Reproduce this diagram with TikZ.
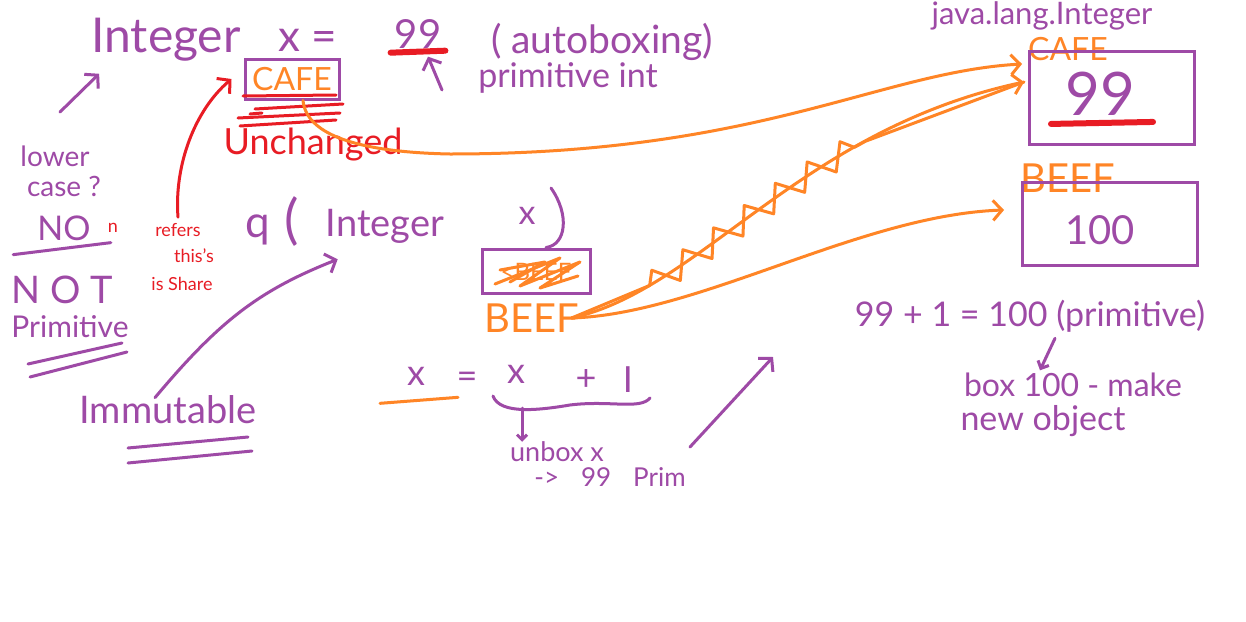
\documentclass[tikz,border=0pt]{standalone}
\usepackage{fontspec}
\setmainfont{Lato}
\usetikzlibrary{arrows.meta,decorations.pathmorphing}
\definecolor{pp}{RGB}{158,74,166}
\definecolor{og}{RGB}{255,133,38}
\definecolor{rd}{RGB}{232,28,36}
\newcommand\hfs[1]{\fontsize{#1}{#1}\selectfont}
\tikzset{
  ptext/.style={text=pp, inner sep=0pt},
  otext/.style={text=og, inner sep=0pt},
  rtext/.style={text=rd, inner sep=0pt},
  pline/.style={draw=pp, line width=3pt, line cap=round, line join=round},
  oline/.style={draw=og, line width=3pt, line cap=round, line join=round},
  rline/.style={draw=rd, line width=3pt, line cap=round, line join=round},
  barb/.style={-{Straight Barb[length=9pt,width=20pt]}},
  pbox/.style={draw=pp, line width=3pt, inner sep=0pt},
}
\begin{document}
\begin{tikzpicture}[x=1pt,y=-1pt]
\useasboundingbox (0,0) rectangle (1246,621);
\fill[white] (0,0) rectangle (1246,621);

% ---------- top line ----------
\node[ptext,font=\hfs{48}] (integer) at (166,40) {Integer};
\node[ptext,font=\hfs{44}] (xeq) at (308,40) {x =};
\node[ptext,font=\hfs{40}] (v99) at (418,34) {99};
\node[ptext,font=\hfs{39}] (autobox) at (602,42) {( autoboxing)};
\node[ptext,font=\hfs{34}] (primint) at (568,78) {primitive int};
\draw[rline,line width=6pt] ([shift={(-4,4)}]v99.south west) -- ([shift={(4,2)}]v99.south east);
\coordinate (piTail) at (442,90);
\draw[pline,barb] (piTail) -- ([shift={(10,8)}]v99.south);

% ---------- CAFE reference box ----------
\node[pbox,text=og,font=\hfs{32},minimum width=94pt,minimum height=40pt] (cafe) at (292,79) {CAFE};
\draw[rline] (243,96) -- (336,95);
\draw[rline] (255,109) -- (343,104);
\draw[rline] (238,118) -- (340,113);
\draw[rline] (240,126) -- (336,120);
\draw[rline] (250,114) -- (262,113);
\node[rtext,font=\hfs{36}] (unch) at (313,145) {Unchanged};

% red "refers" arrow
\node[rtext,font=\hfs{18}] (refers) at (178,230) {refers};
\node[rtext,font=\hfs{18}] (thisis) at (194,256) {this's};
\node[rtext,font=\hfs{18}] (share) at (182,284) {is Share};
\node[rtext,font=\hfs{18}] (nmark) at (113,228) {n};
\draw[rline,barb] ([yshift=6pt]refers.north) .. controls (174,165) and (195,110) .. ([xshift=-12pt]cafe.west);

% ---------- left column ----------
\node[ptext,font=\hfs{28}] (lower) at (55,156) {lower};
\node[ptext,font=\hfs{28}] (case) at (64,186) {case ?};
\coordinate (lowTail) at (60,112);
\draw[pline,barb] (lowTail) -- ([shift={(8,12)}]integer.south west);
\node[ptext,font=\hfs{34}] (no) at (64,228) {NO};
\draw[pline] ([shift={(-24,14)}]no.south west) -- ([shift={(20,2)}]no.south east);
\node[ptext,font=\hfs{38}] (not) at (62,290) {N O T};
\node[ptext,font=\hfs{30}] (primitive) at (70,327) {Primitive};
\draw[pline] (28,364) -- (122,343);
\draw[pline] (30,377) -- (127,352);

% ---------- q(Integer x) ----------
\node[ptext,font=\hfs{44}] (q) at (258,230) {q};
\node[ptext,font=\hfs{54}] (lpar) at (292,222) {(};
\node[ptext,font=\hfs{38}] (integer2) at (385,226) {Integer};
\node[ptext,font=\hfs{34}] (x2) at (527,216) {x};
\node[pbox,minimum width=108pt,minimum height=44pt] (beefbox) at (536,271) {};
\coordinate (rparTop) at (551,188);
\draw[pline] (rparTop) .. controls (570,215) and (566,245) .. ([xshift=10pt]beefbox.north);
\node[otext,font=\hfs{24}] (oldbeef) at (536,272) {<BEEF};
\draw[oline] (495,284) -- (560,258) -- (520,286) -- (580,262) -- (540,288) -- (578,276);
\draw[oline] (500,270) -- (545,262) -- (510,282);
\node[otext,font=\hfs{40}] (beef) at (532,318) {BEEF};

% immutable
\node[ptext,font=\hfs{38}] (immutable) at (168,410) {Immutable};
\draw[pline] (128,448) -- (248,437);
\draw[pline] (128,463) -- (252,451);
\draw[pline,barb] ([shift={(-13,2)}]immutable.north) .. controls (220,320) and (260,290) .. ([shift={(12,16)}]integer2.south west);

% x = x + I
\node[ptext,font=\hfs{36}] (xa) at (416,376) {x};
\node[ptext,font=\hfs{36}] (eq2) at (467,380) {=};
\node[ptext,font=\hfs{36}] (xb) at (516,374) {x};
\node[ptext,font=\hfs{36}] (plus) at (586,380) {+};
\node[ptext,font=\hfs{36}] (oneI) at (628,380) {I};
\draw[oline] ([shift={(-36,18)}]xa.south) -- ([shift={(42,12)}]xa.south);
\coordinate (braceL) at (493,396);
\coordinate (braceR) at (650,398);
\draw[pline] (braceL) .. controls (500,415) and (540,410) .. (570,405) .. controls (610,400) and (640,410) .. (braceR);
\node[ptext,font=\hfs{27}] (unbox) at (557,452) {unbox x};
\node[ptext,font=\hfs{26}] (prim99) at (610,477) {->\hspace{22pt}99\hspace{22pt}Prim};
\draw[pline,-{Straight Barb[length=5pt,width=10pt]}] (522,408) -- ([xshift=-35pt]unbox.north);
\coordinate (upTail) at (690,447);
\coordinate (upTip) at (773,357);
\draw[pline,barb] (upTail) -- (upTip);

% ---------- right: heap objects ----------
\node[ptext,font=\hfs{31}] (jli) at (1042,16) {java.lang.Integer};
\node[otext,font=\hfs{32}] (cafe2) at (1068,49) {CAFE};
\node[pbox,minimum width=165pt,minimum height=93pt] (obj1) at (1112,98) {};
\node[ptext,font=\hfs{60}] (v99b) at (1100,94) {99};
\draw[rline,line width=6pt] ([shift={(-14,8)}]v99b.south west) -- ([shift={(18,6)}]v99b.south east);
\node[otext,font=\hfs{40}] (beef2) at (1068,178) {BEEF};
\node[pbox,minimum width=175pt,minimum height=83pt] (obj2) at (1110,224) {};
\node[ptext,font=\hfs{40}] (v100) at (1100,230) {100};

% orange reference arrows
\coordinate (tipA) at (1022,64);
\coordinate (tipB) at (1024,82);
\coordinate (tipC) at (1004,210);
\draw[oline,barb] ([xshift=11pt]cafe.south) .. controls (306,132) and (350,152) .. (450,154) .. controls (760,154) and (880,72) .. (tipA);
\draw[oline,barb] ([xshift=-8pt]beef.east) .. controls (700,290) and (800,130) .. (tipB);
\draw[oline,decorate,decoration={zigzag,amplitude=12pt,segment length=38pt,pre length=85pt,post length=170pt}]
  ([xshift=-8pt]beef.east) .. controls (700,290) and (800,130) .. (tipB);
\draw[oline,barb] ([xshift=-8pt]beef.east) .. controls (700,314) and (860,215) .. (tipC);

% 99 + 1 = 100
\node[ptext,font=\hfs{34}] (sum) at (1030,316) {99 + 1 = 100 (primitive)};
\draw[pline,-{Straight Barb[length=6pt,width=12pt]}] ([shift={(25,6)}]sum.south) -- ([shift={(10,38)}]sum.south);
\node[ptext,font=\hfs{32}] (boxmake) at (1073,385) {box 100 - make};
\node[ptext,font=\hfs{34}] (newobj) at (1043,421) {new object};
\end{tikzpicture}
\end{document}
